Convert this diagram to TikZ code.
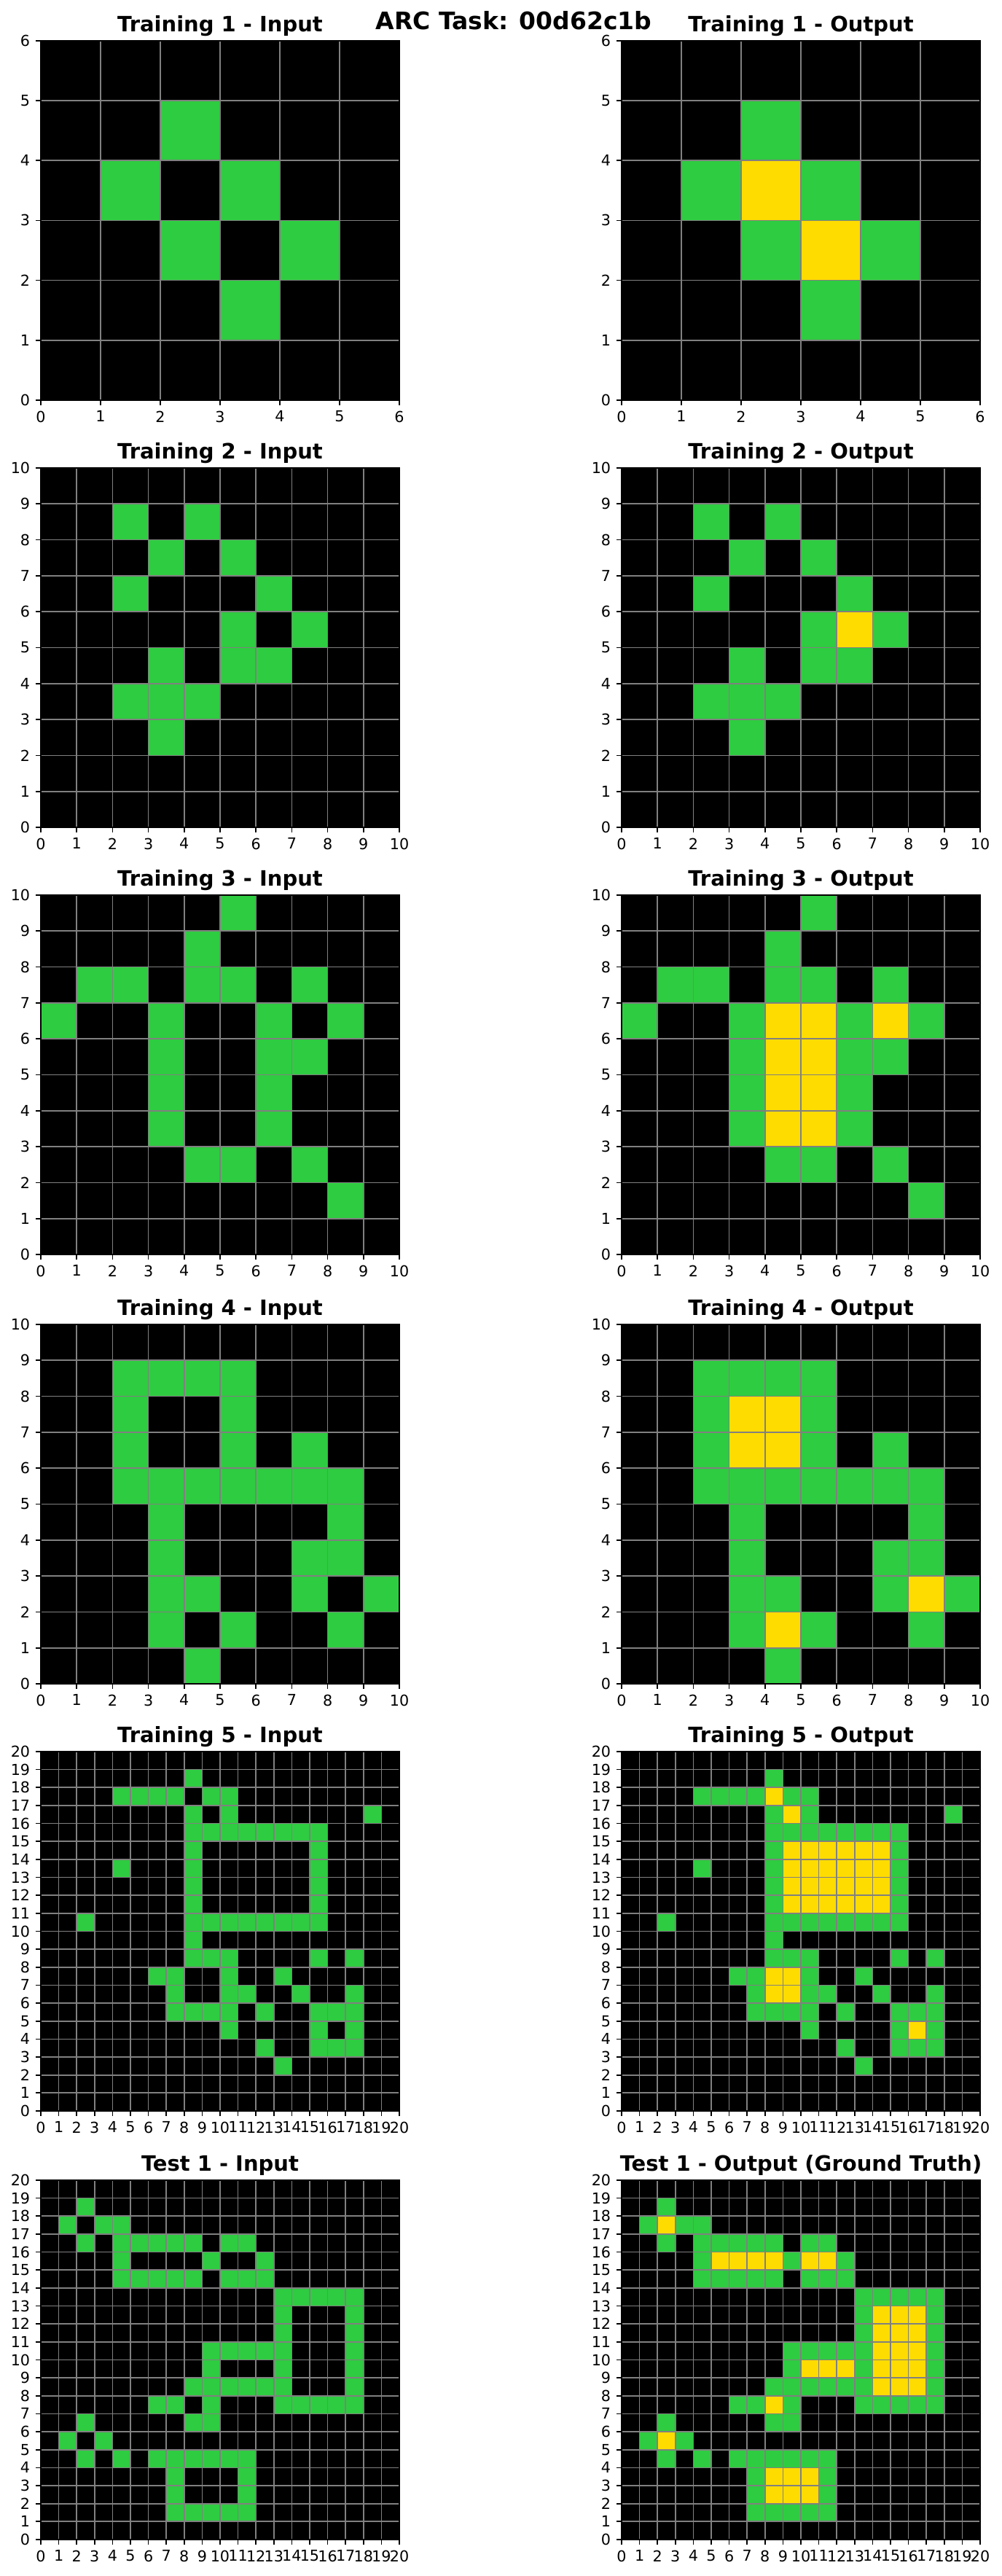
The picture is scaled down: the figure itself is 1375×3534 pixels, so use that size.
\documentclass[tikz,border=0pt]{standalone}
\usepackage{fontspec}
\setmainfont{DejaVu Sans}
\usepackage{xcolor}

\definecolor{arcgreen}{HTML}{2ECC40}
\definecolor{arcyellow}{HTML}{FFDC00}
\definecolor{gridgray}{HTML}{808080}

% cells as column/row, row counted from the bottom
\newcommand{\greenA}{2/4,1/3,3/3,2/2,4/2,3/1}
\newcommand{\yellowA}{2/3,3/2}
\newcommand{\greenB}{2/8,4/8,3/7,5/7,2/6,6/6,5/5,7/5,3/4,5/4,6/4,2/3,3/3,4/3,3/2}
\newcommand{\yellowB}{6/5}
\newcommand{\greenC}{5/9,4/8,1/7,2/7,4/7,5/7,7/7,0/6,3/6,6/6,8/6,3/5,6/5,7/5,
  3/4,6/4,3/3,6/3,4/2,5/2,7/2,8/1}
\newcommand{\yellowC}{4/6,5/6,7/6,4/5,5/5,4/4,5/4,4/3,5/3}
\newcommand{\greenD}{2/8,3/8,4/8,5/8,2/7,5/7,2/6,5/6,7/6,2/5,3/5,4/5,5/5,6/5,7/5,8/5,
  3/4,8/4,3/3,7/3,8/3,3/2,4/2,7/2,9/2,3/1,5/1,8/1,4/0}
\newcommand{\yellowD}{3/7,4/7,3/6,4/6,8/2,4/1}
\newcommand{\greenE}{8/18,4/17,5/17,6/17,7/17,9/17,10/17,8/16,10/16,18/16,
  8/15,9/15,10/15,11/15,12/15,13/15,14/15,15/15,8/14,15/14,4/13,8/13,15/13,
  8/12,15/12,8/11,15/11,2/10,8/10,9/10,10/10,11/10,12/10,13/10,14/10,15/10,
  8/9,8/8,9/8,10/8,15/8,17/8,6/7,7/7,10/7,13/7,7/6,10/6,11/6,14/6,17/6,
  7/5,8/5,9/5,10/5,12/5,15/5,16/5,17/5,10/4,15/4,17/4,12/3,15/3,16/3,17/3,13/2}
\newcommand{\yellowE}{8/17,9/16,9/14,10/14,11/14,12/14,13/14,14/14,
  9/13,10/13,11/13,12/13,13/13,14/13,9/12,10/12,11/12,12/12,13/12,14/12,
  9/11,10/11,11/11,12/11,13/11,14/11,8/7,9/7,8/6,9/6,16/4}
\newcommand{\greenT}{2/18,1/17,3/17,4/17,2/16,4/16,5/16,6/16,7/16,8/16,10/16,11/16,
  4/15,9/15,12/15,4/14,5/14,6/14,7/14,8/14,10/14,11/14,12/14,
  13/13,14/13,15/13,16/13,17/13,13/12,17/12,13/11,17/11,
  9/10,10/10,11/10,12/10,13/10,17/10,9/9,13/9,17/9,
  8/8,9/8,10/8,11/8,12/8,13/8,17/8,6/7,7/7,9/7,13/7,14/7,15/7,16/7,17/7,
  2/6,8/6,9/6,1/5,3/5,2/4,4/4,6/4,7/4,8/4,9/4,10/4,11/4,
  7/3,11/3,7/2,11/2,7/1,8/1,9/1,10/1,11/1}
\newcommand{\yellowT}{2/17,5/15,6/15,7/15,8/15,10/15,11/15,
  14/12,15/12,16/12,14/11,15/11,16/11,14/10,15/10,16/10,
  10/9,11/9,12/9,14/9,15/9,16/9,14/8,15/8,16/8,8/7,2/5,
  8/3,9/3,10/3,8/2,9/2,10/2}

% #1 left, #2 bottom, #3 size, #4 colour, #5 cells
\newcommand{\arccells}[5]{%
  \foreach \cx/\cy in #5
    \fill[#4] ({#1+\cx*492/#3},{#2+\cy*493/#3}) rectangle ++({492/#3},{493/#3});
}
% #1 left, #2 bottom, #3 size, #4 title, #5 name
\newcommand{\arcaxes}[5]{%
  \foreach \k in {0,...,#3}{
    \draw[gridln] ({#1+\k*492/#3},#2) -- ++(0,493);
    \draw[gridln] (#1,{#2+\k*493/#3}) -- ++(492,0);
  }
  \draw[frameln] (#1,#2) rectangle ++(492,493);
  \foreach \k in {0,...,#3}{
    \draw[tickln] ({#1+\k*492/#3},#2) -- ++(0,-7);
    \node[xlbl] (#5x\k) at ({#1+\k*492/#3},{#2-14.5}) {\k};
    \draw[tickln] (#1,{#2+\k*493/#3}) -- ++(-7,0);
    \node[ylbl] (#5y\k) at ({#1-14.5},{#2+\k*493/#3}) {\k};
  }
  \node[ttl] (#5t) at ({#1+246},{#2+505.4}) {#4};
}

\begin{document}
\begin{tikzpicture}[
   x=0.5pt, y=0.5pt,
   gridln/.style={gridgray,line width=0.85pt},
   frameln/.style={black,line width=0.85pt},
   tickln/.style={black,line width=0.85pt},
   xlbl/.style={anchor=north,inner sep=0pt,font=\fontsize{10.35}{12}\selectfont},
   ylbl/.style={anchor=east,inner sep=0pt,font=\fontsize{10.35}{12}\selectfont},
   ttl/.style={anchor=base,inner sep=0pt,font=\fontsize{14.5}{17}\selectfont\bfseries},
   suptl/.style={anchor=base,inner sep=0pt,font=\fontsize{16.5}{19}\selectfont\bfseries}
]
\useasboundingbox (0,0) rectangle (1375,3534);

% Training 1
\fill[black] (56,2985) rectangle ++(492,493);
\arccells{56}{2985}{6}{arcgreen}{\greenA}
\arcaxes{56}{2985}{6}{Training 1 - Input}{ai}
\fill[black] (853,2985) rectangle ++(492,493);
\arccells{853}{2985}{6}{arcgreen}{\greenA}
\arccells{853}{2985}{6}{arcyellow}{\yellowA}
\arcaxes{853}{2985}{6}{Training 1 - Output}{ao}

% Training 2
\fill[black] (56,2399) rectangle ++(492,493);
\arccells{56}{2399}{10}{arcgreen}{\greenB}
\arcaxes{56}{2399}{10}{Training 2 - Input}{bi}
\fill[black] (853,2399) rectangle ++(492,493);
\arccells{853}{2399}{10}{arcgreen}{\greenB}
\arccells{853}{2399}{10}{arcyellow}{\yellowB}
\arcaxes{853}{2399}{10}{Training 2 - Output}{bo}

% Training 3
\fill[black] (56,1813) rectangle ++(492,493);
\arccells{56}{1813}{10}{arcgreen}{\greenC}
\arcaxes{56}{1813}{10}{Training 3 - Input}{ci}
\fill[black] (853,1813) rectangle ++(492,493);
\arccells{853}{1813}{10}{arcgreen}{\greenC}
\arccells{853}{1813}{10}{arcyellow}{\yellowC}
\arcaxes{853}{1813}{10}{Training 3 - Output}{co}

% Training 4
\fill[black] (56,1224) rectangle ++(492,493);
\arccells{56}{1224}{10}{arcgreen}{\greenD}
\arcaxes{56}{1224}{10}{Training 4 - Input}{di}
\fill[black] (853,1224) rectangle ++(492,493);
\arccells{853}{1224}{10}{arcgreen}{\greenD}
\arccells{853}{1224}{10}{arcyellow}{\yellowD}
\arcaxes{853}{1224}{10}{Training 4 - Output}{do}

% Training 5
\fill[black] (56,638) rectangle ++(492,493);
\arccells{56}{638}{20}{arcgreen}{\greenE}
\arcaxes{56}{638}{20}{Training 5 - Input}{ei}
\fill[black] (853,638) rectangle ++(492,493);
\arccells{853}{638}{20}{arcgreen}{\greenE}
\arccells{853}{638}{20}{arcyellow}{\yellowE}
\arcaxes{853}{638}{20}{Training 5 - Output}{eo}

% Test
\fill[black] (56,50) rectangle ++(492,493);
\arccells{56}{50}{20}{arcgreen}{\greenT}
\arcaxes{56}{50}{20}{Test 1 - Input}{ti}
\fill[black] (853,50) rectangle ++(492,493);
\arccells{853}{50}{20}{arcgreen}{\greenT}
\arccells{853}{50}{20}{arcyellow}{\yellowT}
\arcaxes{853}{50}{20}{Test 1 - Output (Ground Truth)}{to}

\node[suptl] (sup) at (705,3493) {ARC Task: 00d62c1b};
\end{tikzpicture}
\end{document}
